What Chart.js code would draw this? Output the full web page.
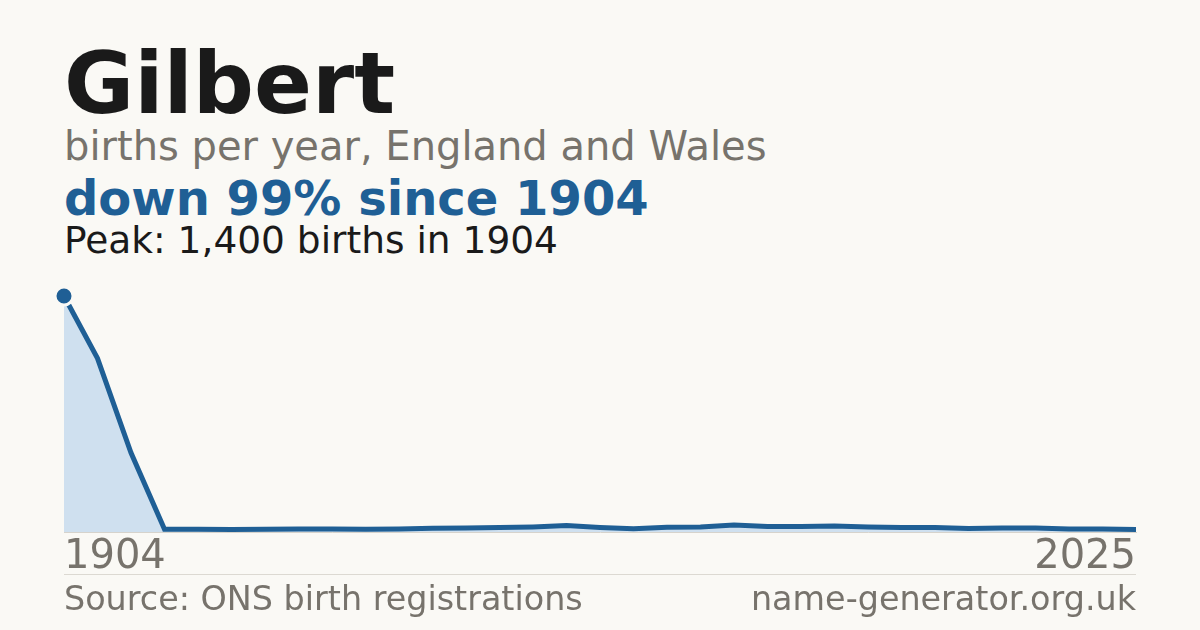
<!DOCTYPE html>
<html>
<head>
<meta charset="utf-8">
<script src="https://cdn.jsdelivr.net/npm/chart.js@4"></script>
<style>
  html, body { margin:0; padding:0; background:#faf9f5; }
  body { width:1200px; height:630px; position:relative; overflow:hidden; font-family:"DejaVu Sans", sans-serif; }
  .t { position:absolute; left:64px; white-space:nowrap; line-height:1; }
  #title { top:40.5px; font-size:85.5px; font-weight:bold; color:#1a1a1a; }
  #sub { top:125.5px; font-size:40px; color:#77736c; }
  #down { top:174px; font-size:48px; font-weight:bold; color:#1f5f95; }
  #peak { top:221.6px; font-size:37.5px; color:#1a1a1a; }
  #sep { position:absolute; left:64px; width:1072px; top:574px; height:1px; background:#dcd9d2; }
  #src { top:582px; font-size:33.4px; color:#77736c; }
  #site { position:absolute; right:64px; top:582px; font-size:33.4px; color:#77736c; line-height:1; white-space:nowrap; }
  #wrap { position:absolute; left:0; top:280px; width:1200px; height:304px; }
</style>
</head>
<body>
<div class="t" id="title">Gilbert</div>
<div class="t" id="sub">births per year, England and Wales</div>
<div class="t" id="down">down 99% since 1904</div>
<div class="t" id="peak">Peak: 1,400 births in 1904</div>
<div id="wrap"><canvas id="c"></canvas></div>
<div id="sep"></div>
<div class="t" id="src">Source: ONS birth registrations</div>
<div id="site">name-generator.org.uk</div>
<script>
const years = [1904,1908,1912,1915,1919,1923,1927,1930,1934,1938,1942,1945,1949,1953,1957,1961,1964,1968,1972,1976,1979,1983,1987,1991,1994,1998,2002,2006,2010,2013,2017,2021,2025];
const births = [1400,1030,470,16,16,15,16,18,18,16,18,22,24,26,30,38,27,20,28,30,42,32,32,36,30,27,26,21,24,24,18,18,15];
const yMax = 1400;

const ctx = document.getElementById('c');
new Chart(ctx, {
  type: 'line',
  data: {
    labels: years,
    datasets: [{
      data: births,
      borderColor: '#1f5f95',
      borderWidth: 5,
      backgroundColor: '#cfe0ef',
      fill: 'origin',
      tension: 0,
      clip: false,
      pointRadius: (c) => c.dataIndex === 0 ? 9 : 0,
      pointHoverRadius: 0,
      pointBackgroundColor: '#1f5f95',
      pointBorderColor: '#faf9f5',
      pointBorderWidth: 3
    }]
  },
  options: {
    responsive: true,
    maintainAspectRatio: false,
    animation: false,
    events: [],
    layout: { padding: { left: 64, right: 64, top: 16, bottom: 0 } },
    plugins: { legend: { display: false }, tooltip: { enabled: false } },
    scales: {
      y: { display: false, min: 0, max: yMax },
      x: {
        grid: { display: false, drawTicks: false },
        border: { display: true, color: '#d6d3cc', width: 1 },
        ticks: {
          autoSkip: false,
          maxRotation: 0,
          align: 'inner',
          padding: 2,
          color: '#77736c',
          font: { family: 'DejaVu Sans', size: 40 },
          callback: function(v, i, arr) { return (i === 0 || i === arr.length - 1) ? this.getLabelForValue(v) : ''; }
        }
      }
    }
  }
});
</script>
</body>
</html>
